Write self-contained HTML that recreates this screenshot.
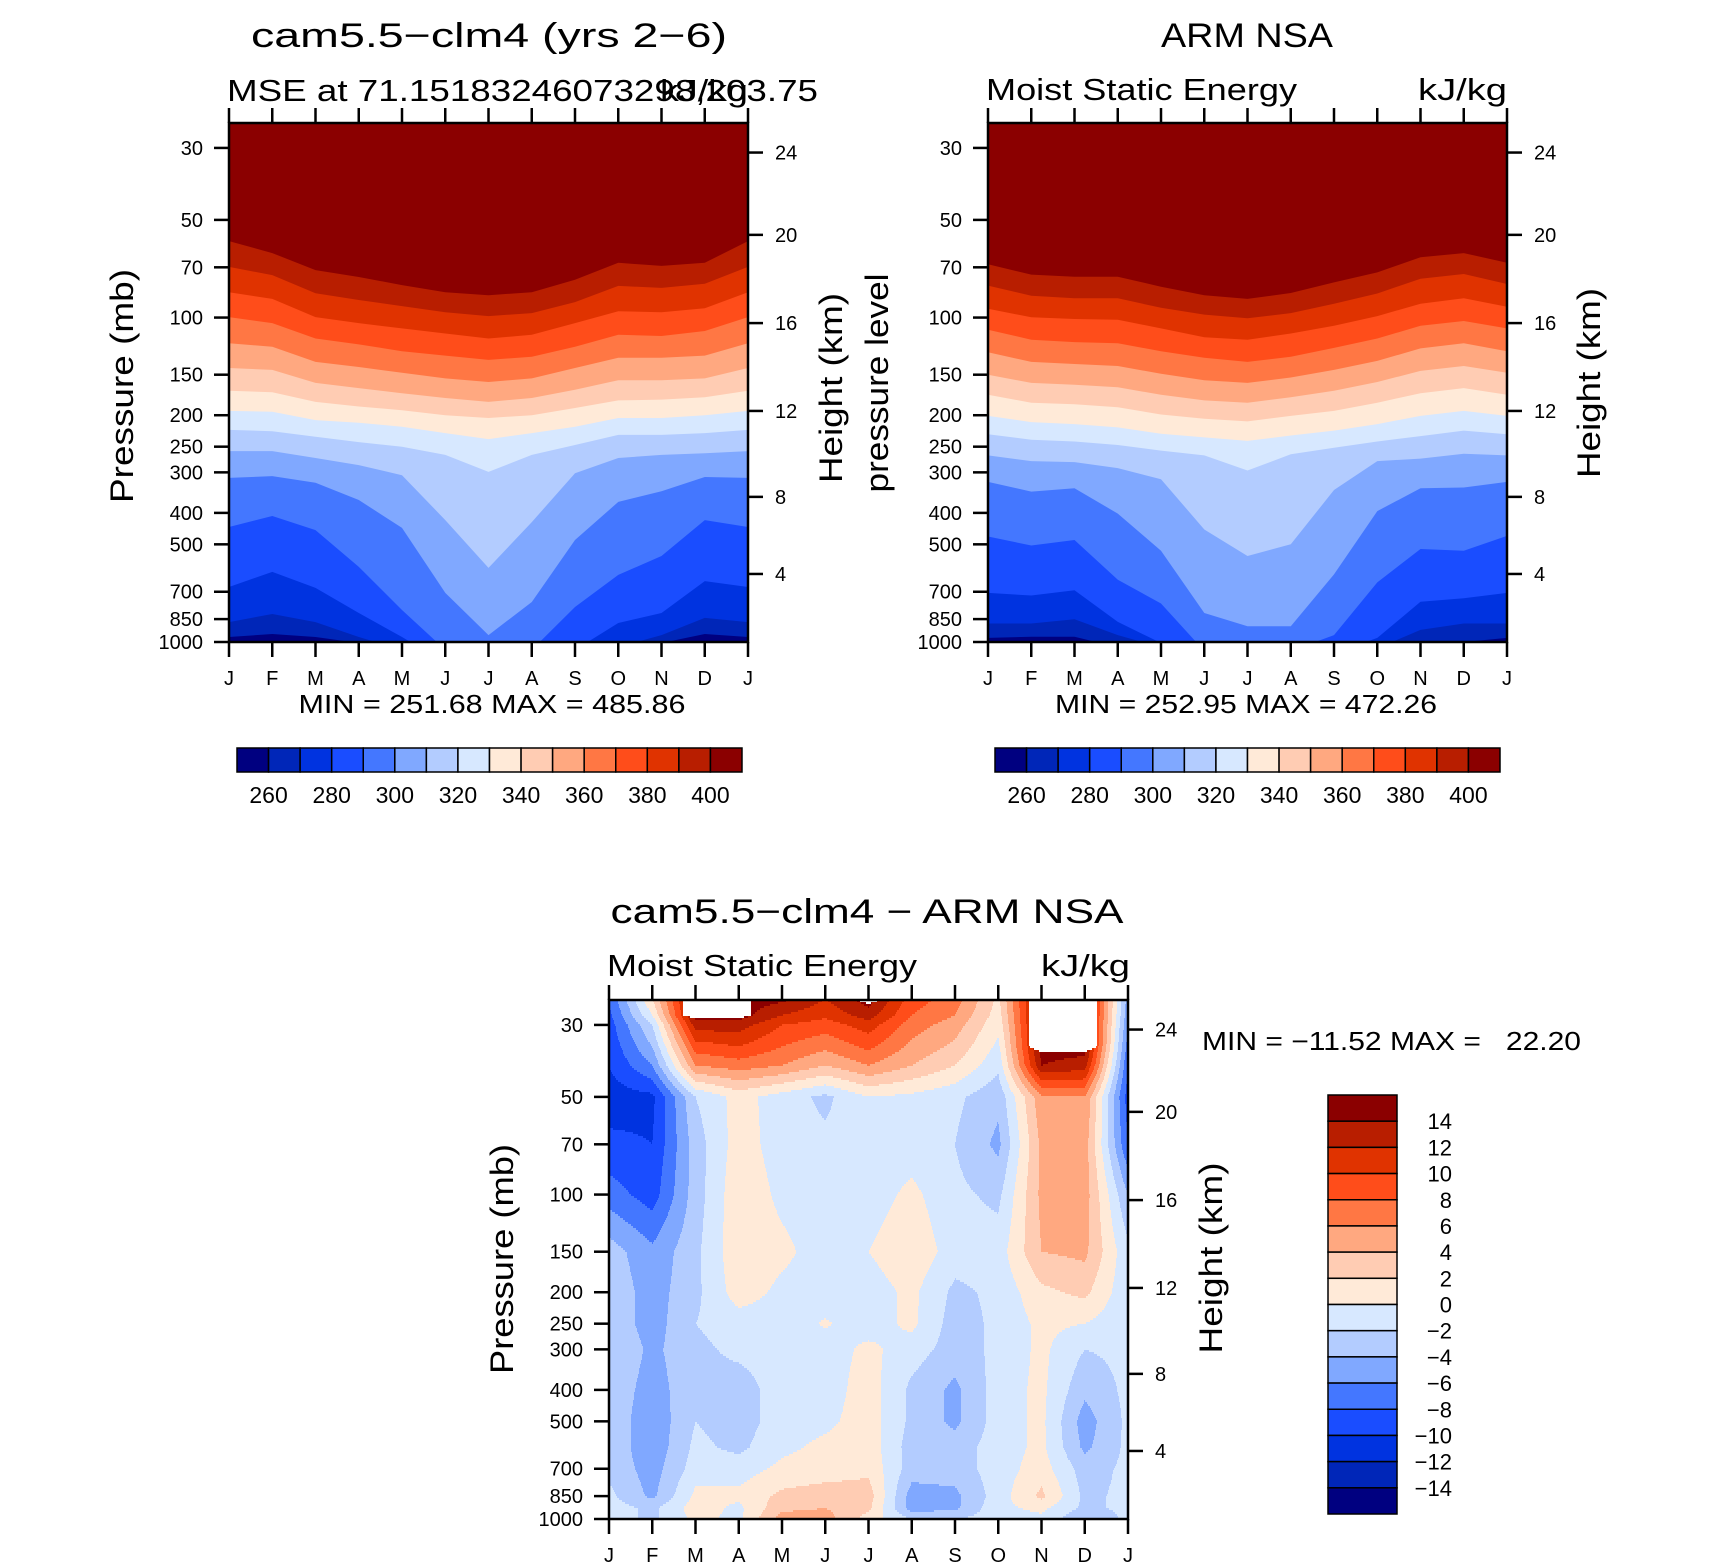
<!DOCTYPE html>
<html><head><meta charset="utf-8"><title>MSE cam5.5-clm4 vs ARM NSA</title>
<style>
html,body{margin:0;padding:0;background:#fff;}
svg{display:block;font-family:"Liberation Sans",sans-serif;}
text{fill:#000;}
</style></head>
<body>
<svg id="fig" width="1710" height="1567" viewBox="0 0 1710 1567" xmlns="http://www.w3.org/2000/svg">
<rect x="0" y="0" width="1710" height="1567" fill="#fff"/>
<defs>
<clipPath id="clipL"><rect x="229" y="123" width="519" height="519"/></clipPath>
<clipPath id="clipR"><rect x="988" y="123" width="519" height="519"/></clipPath>
<clipPath id="clipD"><rect x="609" y="1000" width="519" height="519"/></clipPath>
</defs>
<text x="489" y="47" font-size="34" text-anchor="middle" textLength="476" lengthAdjust="spacingAndGlyphs">cam5.5−clm4 (yrs 2−6)</text>
<text x="227" y="101" font-size="31" textLength="591" lengthAdjust="spacingAndGlyphs">MSE at 71.15183246073298,203.75</text>
<text x="748" y="101" font-size="31" text-anchor="end" textLength="88" lengthAdjust="spacingAndGlyphs">kJ/kg</text>
<text transform="translate(133,386) rotate(-90)" font-size="32" text-anchor="middle" textLength="234" lengthAdjust="spacingAndGlyphs">Pressure (mb)</text>
<text transform="translate(842,388) rotate(-90)" font-size="32" text-anchor="middle" textLength="190" lengthAdjust="spacingAndGlyphs">Height (km)</text>
<text x="492" y="713" font-size="26" text-anchor="middle" textLength="387" lengthAdjust="spacingAndGlyphs">MIN = 251.68 MAX = 485.86</text>

<text x="1247" y="47" font-size="34" text-anchor="middle" textLength="172" lengthAdjust="spacingAndGlyphs">ARM NSA</text>
<text x="986" y="100" font-size="31" textLength="311" lengthAdjust="spacingAndGlyphs">Moist Static Energy</text>
<text x="1507" y="100" font-size="31" text-anchor="end" textLength="89" lengthAdjust="spacingAndGlyphs">kJ/kg</text>
<text transform="translate(888,383) rotate(-90)" font-size="32" text-anchor="middle" textLength="219" lengthAdjust="spacingAndGlyphs">pressure level</text>
<text transform="translate(1600,383) rotate(-90)" font-size="32" text-anchor="middle" textLength="190" lengthAdjust="spacingAndGlyphs">Height (km)</text>
<text x="1246" y="713" font-size="26" text-anchor="middle" textLength="382" lengthAdjust="spacingAndGlyphs">MIN = 252.95 MAX = 472.26</text>

<text x="867" y="923" font-size="34" text-anchor="middle" textLength="513" lengthAdjust="spacingAndGlyphs">cam5.5−clm4 − ARM NSA</text>
<text x="607" y="976" font-size="31" textLength="310" lengthAdjust="spacingAndGlyphs">Moist Static Energy</text>
<text x="1130" y="976" font-size="31" text-anchor="end" textLength="89" lengthAdjust="spacingAndGlyphs">kJ/kg</text>
<text transform="translate(513,1259) rotate(-90)" font-size="32" text-anchor="middle" textLength="230" lengthAdjust="spacingAndGlyphs">Pressure (mb)</text>
<text transform="translate(1222,1258) rotate(-90)" font-size="32" text-anchor="middle" textLength="191" lengthAdjust="spacingAndGlyphs">Height (km)</text>
<text x="1202" y="1050" font-size="26" textLength="379" lengthAdjust="spacingAndGlyphs" xml:space="preserve">MIN = −11.52 MAX =   22.20</text>
</svg>
<script>
// ---------- data ----------
const months = ["J","F","M","A","M","J","J","A","S","O","N","D","J"];
const pressTicks = [30,50,70,100,150,200,250,300,400,500,700,850,1000];
const heightLabels = [4,8,12,16,20,24];
const heightPress = [617,357,194,104,55.6,31];
const mseLevels = [260,270,280,290,300,310,320,330,340,350,360,370,380,390,400];
const mseBarLabels = [260,280,300,320,340,360,380,400];
const colors16 = ["#000080","#0026B8","#0033E0","#1A4DFF","#4477FF","#80A8FF","#B3CCFF","#D7E8FF","#FFEAD8","#FFCCB3","#FFA880","#FF7744","#FF4D1A","#E03300","#B81E00","#8B0000"];
// isoline pressure (hPa) per month for each MSE level, model
const modelIso260 = [965,945,965,1007,1112,1330,1376,1330,1282,1152,1007,945,965];
const modelIso270 = [868,820,868,965,1058,1282,1338,1282,1194,1036,952,843,868];
const modelIso280 = [677,608,681,814,965,1160,1220,1160,1058,874,814,649,677];
const modelIso290 = [442,409,452,587,797,1058,1112,1058,780,621,543,421,442];
const modelIso300 = [312,308,323,365,445,706,952,753,485,370,343,310,312];
const modelIso310 = [258,258,271,285,306,421,591,427,302,271,265,262,258];
const modelIso320 = [222,224,233,242,250,265,299,265,247,230,230,227,222];
const modelIso330 = [194,195,207,211,217,227,237,227,217,204,204,200,194];
const modelIso340 = [168,170,182,188,193,200,204,200,190,180,179,176,168];
const modelIso350 = [143,145,159,165,171,177,182,177,167,156,156,154,143];
const modelIso360 = [120,123,137,142,148,154,158,154,143,133,133,131,120];
const modelIso370 = [99.7,104,116,121,127,131,135,132,123,113,114,110,99.7];
const modelIso380 = [83.5,87.6,99.7,104,108,112,116,113,104,95.6,96.3,93.6,83.5];
const modelIso390 = [69.8,74.0,84.1,88.3,92.2,96.3,99.0,96.9,89.6,79.9,81.0,78.7,69.8];
const modelIso400 = [58.1,63.3,71.4,75.0,79.4,83.5,85.3,83.5,76.5,67.8,69.3,67.8,58.1];
// observations
const obsIso260 = [971,963,963,1038,1078,1206,1229,1206,1184,1140,1058,1000,971];
const obsIso270 = [877,877,851,952,1038,1162,1184,1162,1140,1046,918,877,877];
const obsIso280 = [706,719,693,867,1007,1107,1148,1107,1086,971,752,733,706];
const obsIso290 = [473,504,485,643,761,1066,1107,1066,952,655,517,523,471];
const obsIso300 = [321,344,336,402,523,814,894,894,619,395,336,334,321];
const obsIso310 = [266,277,279,291,315,450,543,500,340,277,272,263,266];
const obsIso320 = [229,238,241,247,257,266,296,264,252,241,232,223,229];
const obsIso330 = [201,210,213,218,228,234,240,231,223,213,201,194,201];
const obsIso340 = [173,183,185,189,199,205,209,201,194,183,171,165,173];
const obsIso350 = [150,159,161,164,173,180,183,176,168,158,146,141,148];
const obsIso360 = [128,137,139,141,149,156,159,153,145,136,124.5,120,127];
const obsIso370 = [109,117,119,120,127,133,137,132,124,116,106,102.5,108];
const obsIso380 = [94,99.8,101,101.5,108,115,117,112,106,99,90.6,87.2,92.6];
const obsIso390 = [79.7,85.6,87.2,87.2,93.3,97.9,100.5,96.9,90.6,84.3,75.9,73.4,78.8];
const obsIso400 = [68.5,73.7,74.8,74.8,80.3,85.3,87.6,84.0,77.9,72.6,65.2,63.3,67.8];
// difference field grid: pressure levels and values per month (null = missing)
const diffLevels = [25,28,30,35,40,50,70,100,150,200,250,300,400,500,600,700,850,925,1000];
const diffJan = [-8,-8.5,-9,-9.5,-10,-11,-9.5,-7,-3,-2.5,-2.5,-2,-2.5,-2.5,-2.5,-2.5,-1.5,-1,-1];
const diffFeb = [2,0,-2,-4,-6,-10.5,-10,-9,-5.5,-5,-5,-4.5,-5,-5.5,-5.5,-5,-4.5,-2.5,-2.5];
const diffMar = [null,null,13,9,6,-2,-3,-3,-2.5,-2.5,-2,-2.5,-2.5,-2,-1.5,-1,0.5,1,0.5];
const diffApr = [null,null,13,10,7,0.8,1,1.5,1.5,1,-1,-1.5,-3,-3,-2.5,-1,0.5,-0.5,-0.5];
const diffMay = [14.5,12,10,8,6,-1,-1,-0.5,0.5,-0.5,-1,-1,-1,-1,-0.5,0.5,2.5,3.5,5];
const diffJun = [12,10.5,9,6.5,4,-2.5,-1.5,-1,-1,-1,0.2,-1,-1,-0.5,0.5,1,3,4,5];
const diffJul = [null,13,11,8.5,6,0,-1,-1,0,-1,-1,0.5,1,1,1.2,1.5,3,2.5,1];
const diffAug = [9,8,7,5.5,4,-0.5,-1,0.5,1.5,0.5,0.5,-1,-2.5,-2.5,-3,-3,-5,-5,-2];
const diffSep = [7,6,5,3.5,2,-1.5,-2,-1.5,-1,-2.5,-3,-3,-4.5,-4.5,-3,-3,-4.5,-4.5,-2];
const diffOct = [1.5,1,0.5,-0.5,-1.5,-3.5,-4.5,-2.5,-1,-1.5,-1.5,-1.5,-1,-1,-1,-1,-1,-0.5,-1];
const diffNov = [null,null,null,null,14,5.5,4.5,4.5,4,1.5,0.5,0.5,0.5,0.5,0.5,1,2.5,0.5,-0.5];
const diffDec = [null,null,null,null,13,6,5,5,4.5,2.5,0,-2,-3.5,-5,-4.5,-3,-2.5,-2.5,-4];
const diffJan2 = [-5,-5.5,-6,-7,-8,-9,-8,-4,-1.5,-1.5,-1.5,-1.5,-1.5,-1.5,-1.5,-1.5,-1.5,-1.5,-1.5];
const diffLegendLabels = [14,12,10,8,6,4,2,0,-2,-4,-6,-8,-10,-12,-14];

const modelIso = [modelIso260,modelIso270,modelIso280,modelIso290,modelIso300,modelIso310,modelIso320,modelIso330,modelIso340,modelIso350,modelIso360,modelIso370,modelIso380,modelIso390,modelIso400];
const obsIso = [obsIso260,obsIso270,obsIso280,obsIso290,obsIso300,obsIso310,obsIso320,obsIso330,obsIso340,obsIso350,obsIso360,obsIso370,obsIso380,obsIso390,obsIso400];
const diffGrid = [diffJan,diffFeb,diffMar,diffApr,diffMay,diffJun,diffJul,diffAug,diffSep,diffOct,diffNov,diffDec,diffJan2];

// ---------- helpers ----------
const NS = "http://www.w3.org/2000/svg";
const svg = document.getElementById("fig");
const PW = 519, PH = 519, K = 140.9;
function mk(tag, attrs, parent){
  const e = document.createElementNS(NS, tag);
  for (const k in attrs) e.setAttribute(k, attrs[k]);
  (parent || svg).appendChild(e);
  return e;
}
function yP(p, top){ return top + PH - K*Math.log(1000/p); }
function xM(m, left){ return left + m*PW/12; }
function txt(x, y, s, size, anchor, parent){
  const t = mk("text", {x:x, y:y, "font-size":size, "text-anchor":anchor}, parent);
  t.textContent = s;
  return t;
}

function axes(left, top, name){
  const g = mk("g", {});
  
  
  const bot = top + PH, right = left + PW;
  months.forEach((m, i) => {
    const x = xM(i, left);
    const t1 = mk("line", {x1:x, x2:x, y1:top-15, y2:top, stroke:"#000", "stroke-width":2.5}, g);
    
    
    const t2 = mk("line", {x1:x, x2:x, y1:bot, y2:bot+15, stroke:"#000", "stroke-width":2.5}, g);
    
    
    const lb = txt(x, bot+43, m, 20, "middle", g);
    
    
  });
  pressTicks.forEach(p => {
    const y = yP(p, top);
    const t = mk("line", {x1:left-15, x2:left, y1:y, y2:y, stroke:"#000", "stroke-width":2.5}, g);
    
    
    const lb = txt(left-26, y+7, String(p), 20, "end", g);
    
    
  });
  heightPress.forEach((p, i) => {
    const y = yP(p, top);
    const t = mk("line", {x1:right, x2:right+15, y1:y, y2:y, stroke:"#000", "stroke-width":2.5}, g);
    
    
    const lb = txt(right+27, y+7, String(heightLabels[i]), 20, "start", g);
    
    
  });
  const fr = mk("rect", {x:left, y:top, width:PW, height:PH, fill:"none", stroke:"#000", "stroke-width":2.5}, g);
  
  
}

function isoPlot(iso, left, top, clip, name){
  const g = mk("g", {"clip-path":"url(#"+clip+")"});
  
  
  const bg = mk("rect", {x:left, y:top, width:PW, height:PH, fill:colors16[0]}, g);
  
  
  iso.forEach((line, k) => {
    const pts = line.map((p, i) => xM(i, left).toFixed(1) + "," + yP(p, top).toFixed(1));
    pts.push((left+PW+2) + "," + (top-5));
    pts.push((left-2) + "," + (top-5));
    const poly = mk("polygon", {points: pts.join(" "), fill: colors16[k+1]}, g);
    
    
  });
}

function hColorbar(left, top, w, h, name){
  const g = mk("g", {});
  
  
  const bw = w/16;
  colors16.forEach((c, i) => {
    const r = mk("rect", {x:left+i*bw, y:top, width:bw, height:h, fill:c, stroke:"#000", "stroke-width":1.5}, g);
    
    
  });
  mseBarLabels.forEach(v => {
    const idx = mseLevels.indexOf(v) + 1;
    const lb = txt(left + idx*bw, top + h + 31, String(v), 23, "middle", g);
    
    
  });
}

// ---------- top plots ----------
isoPlot(modelIso, 229, 123, "clipL", "model");
axes(229, 123, "model");
hColorbar(237, 748, 505, 24, "model");
isoPlot(obsIso, 988, 123, "clipR", "obs");
axes(988, 123, "obs");
hColorbar(995, 748, 505, 24, "obs");

// ---------- difference plot ----------
const lnLev = diffLevels.map(p => Math.log(p));
function diffVal(u, lp){
  let i = Math.floor(u); if (i < 0) i = 0; if (i > 11) i = 11;
  const fu = Math.min(1, Math.max(0, u - i));
  let j = 0;
  while (j < lnLev.length-2 && lp > lnLev[j+1]) j++;
  let fv = (lp - lnLev[j])/(lnLev[j+1]-lnLev[j]); fv = Math.min(1, Math.max(0, fv));
  const w = [[i,j,(1-fu)*(1-fv)],[i+1,j,fu*(1-fv)],[i,j+1,(1-fu)*fv],[i+1,j+1,fu*fv]];
  let v = 0, nw = 0;
  w.forEach(c => {
    const d = diffGrid[c[0]][c[1]];
    if (d === null){ nw += c[2]; v += 15*c[2]; } else v += d*c[2];
  });
  return nw >= 0.72 ? null : v;
}
function diffColor(v){
  if (v === null) return "#FFFFFF";
  let c = Math.floor((v + 14)/2) + 1;
  if (c < 0) c = 0; if (c > 15) c = 15;
  return colors16[c];
}
(function(){
  const left = 609, top = 1000, bot = top + PH;
  const g = mk("g", {"clip-path":"url(#clipD)"});
  
  
  const step = 2;
  for (let y = top; y < bot; y += step){
    const p = 1000*Math.exp(-(bot - (y+step/2))/K);
    const lp = Math.log(p);
    let runStart = left, runCol = null;
    for (let x = left; x <= left+PW; x++){
      const col = x < left+PW ? diffColor(diffVal((x+0.5-left)/PW*12, lp)) : null;
      if (col !== runCol){
        if (runCol !== null){
          const r = mk("rect", {x:runStart, y:y, width:x-runStart+0.6, height:step+0.6, fill:runCol}, g);
          
          
        }
        runStart = x; runCol = col;
      }
    }
  }
})();
axes(609, 1000, "diff");

// vertical legend
(function(){
  const g = mk("g", {});
  
  
  const left = 1328, top = 1095, w = 69, bh = 419/16;
  for (let i = 0; i < 16; i++){
    const r = mk("rect", {x:left, y:top+i*bh, width:w, height:bh, fill:colors16[15-i], stroke:"#000", "stroke-width":1.5}, g);
    
    
  }
  diffLegendLabels.forEach((v, i) => {
    const s = v < 0 ? "−" + Math.abs(v) : String(v);
    const lb = txt(1452, top + (i+1)*bh + 8, s, 22, "end", g);
    
    
  });
})();
</script>
</body></html>
